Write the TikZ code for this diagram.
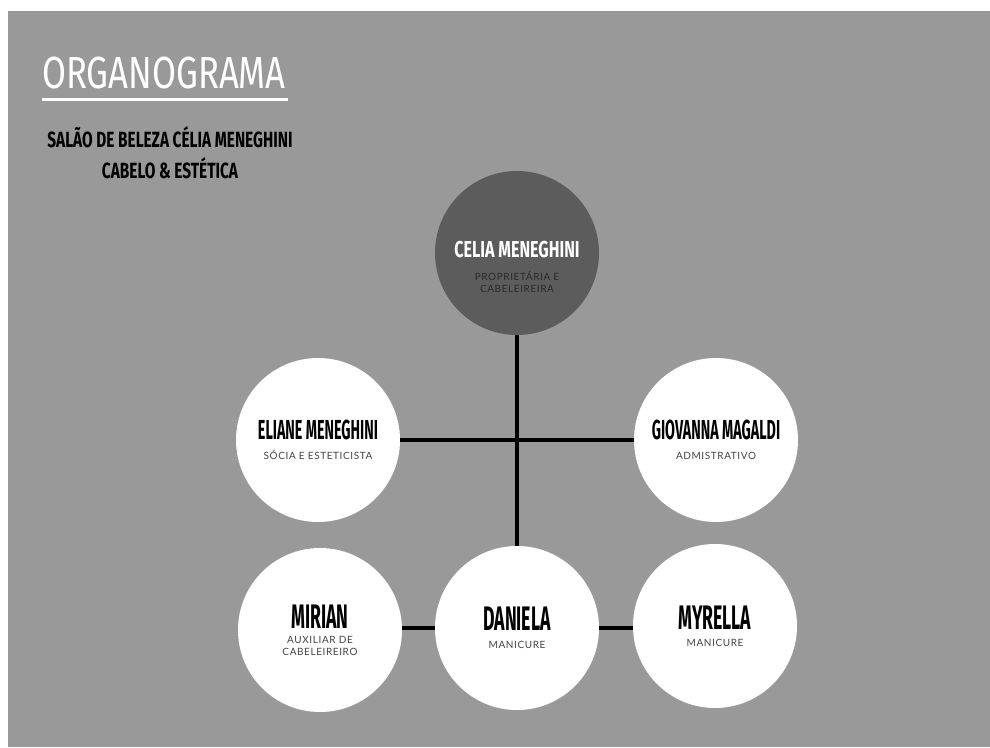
\documentclass[tikz,border=0pt]{standalone}
\usepackage{fontspec}
\setmainfont{Lato}
\newfontfamily\namefont[FakeStretch=0.52]{Fira Sans}
\newfontfamily\headfont[FakeStretch=0.7]{Fira Sans}
\newfontfamily\titlefont[FakeStretch=0.77]{Fira Sans}
\newfontfamily\rolefont[LetterSpace=6]{Lato}

\definecolor{BgGray}{HTML}{999999}
\definecolor{DarkDot}{HTML}{5C5C5C}
\definecolor{RoleGray}{HTML}{444444}
\definecolor{RoleDark}{HTML}{2A2A2A}

\newcommand{\nm}[2][27.5]{{\namefont\bfseries\fontsize{#1}{#1}\selectfont #2}}
\newcommand{\hd}[2][22]{{\headfont\bfseries\fontsize{#1}{#1}\selectfont #2}}
\newcommand{\role}[1]{{\rolefont\fontsize{10}{13}\selectfont #1}}

\begin{document}
\begin{tikzpicture}[x=1pt, y=-1pt,
  whitedot/.style={circle, fill=white, minimum size=164pt, inner sep=0pt, align=center, text=RoleGray},
  darkdot/.style={circle, fill=DarkDot, minimum size=164pt, inner sep=0pt},
  link/.style={line width=3.6pt, black}]

% Background
\fill[white] (0,0) rectangle (990,747);
\fill[BgGray] (8,11) rectangle (990,747);
\useasboundingbox (0,0) rectangle (990,747);

% Heading
\node[anchor=base west, inner sep=0pt, text=white] (title) at (42,88)
  {\titlefont\fontsize{45}{45}\selectfont ORGANOGRAMA};
\draw[white, line width=3pt] ([yshift=-11pt]title.base west) -- ([yshift=-11pt,xshift=2pt]title.base east);

\node[anchor=base, inner sep=0pt] (sub1) at (170,147) {\hd{SALÃO DE BELEZA CÉLIA MENEGHINI}};
\node[anchor=base, inner sep=0pt] (sub2) at (170,178) {\hd{CABELO \& ESTÉTICA}};

% Dots
\node[darkdot] (celia) at (517,253) {};
\node[align=center, text=RoleDark] (celiatext) at (517,267)
  {\hd[23]{\color{white}CELIA MENEGHINI}\\[11pt]\role{PROPRIETÁRIA E}\\\role{CABELEIREIRA}};

\node[whitedot] (eliane) at (318,440) {\nm{\color{black}ELIANE MENEGHINI}\\[8pt]\role{SÓCIA E ESTETICISTA}};
\node[whitedot] (giovanna) at (716,440) {\nm{\color{black}GIOVANNA MAGALDI}\\[8pt]\role{ADMISTRATIVO}};

\node[whitedot] (mirian) at (320,630) {\nm[34]{\color{black}MIRIAN}\\[3pt]\role{AUXILIAR DE}\\\role{CABELEIREIRO}};
\node[whitedot] (daniela) at (517,628) {\nm[34]{\color{black}DANIELA}\\[6pt]\role{MANICURE}};
\node[whitedot] (myrella) at (715,626) {\nm[34]{\color{black}MYRELLA}\\[5pt]\role{MANICURE}};

% Links
\draw[link] (celia.south) -- (daniela.north);
\draw[link] (eliane.east) -- (giovanna.west);
\draw[link] (daniela.west) -- (daniela.west -| mirian.east);
\draw[link] (daniela.east) -- (daniela.east -| myrella.west);

\end{tikzpicture}
\end{document}
